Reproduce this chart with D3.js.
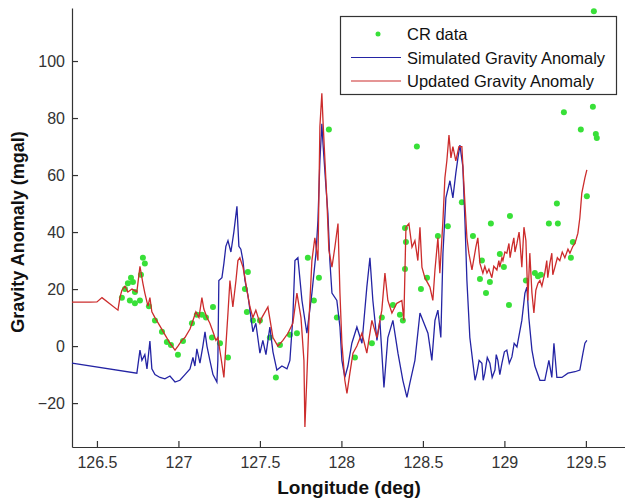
<!DOCTYPE html>
<html>
<head>
<meta charset="utf-8">
<script src="https://cdn.jsdelivr.net/npm/d3@7"></script>
<style>
  body { margin: 0; background: #fff; }
  svg { display: block; font-family: "Liberation Sans", Arial, sans-serif; }
</style>
</head>
<body>
<svg id="chart" width="625" height="501"></svg>
<script>
// simulated gravity anomaly (blue)
var simLon = [126.347,126.745,126.764,126.776,126.794,126.807,126.825,126.837,126.856,126.887,126.917,126.948,126.979,127.009,127.040,127.071,127.089,127.101,127.113,127.132,127.150,127.163,127.175,127.193,127.212,127.236,127.242,127.248,127.267,127.279,127.291,127.304,127.322,127.340,127.359,127.371,127.383,127.396,127.408,127.426,127.445,127.457,127.475,127.500,127.518,127.537,127.561,127.580,127.604,127.635,127.666,127.684,127.702,127.715,127.733,127.758,127.788,127.819,127.844,127.856,127.868,127.880,127.887,127.905,127.917,127.929,127.942,127.972,127.991,128.003,128.021,128.040,128.064,128.095,128.126,128.156,128.175,128.193,128.218,128.236,128.261,128.285,128.316,128.347,128.377,128.402,128.420,128.451,128.482,128.500,128.531,128.555,128.574,128.592,128.610,128.623,128.641,128.666,128.684,128.702,128.715,128.727,128.745,128.758,128.770,128.788,128.807,128.820,128.831,128.845,128.862,128.870,128.880,128.895,128.911,128.925,128.942,128.950,128.960,128.972,128.985,129.000,129.015,129.030,129.046,129.060,129.077,129.107,129.126,129.138,129.150,129.169,129.187,129.218,129.248,129.273,129.291,129.304,129.322,129.353,129.390,129.433,129.463,129.482,129.494,129.506];
var simVal = [-6,-9.5,-1.4,-5,-3,-8,1.8,-8,-10,-11,-11.5,-10.5,-12.6,-12,-10,-8,-4,-7,-1,-6,0,5,0,-5,-10,-12.6,-5,23,24,29,35,37,33,40,49,35,34,30,23,18,10,5,8,-2.5,2,-3,6.7,-2,-8.4,-7,-8,-5,10,30,31,16,4.5,18.6,32.6,44,65,78,71,56,46.6,30,18.6,16,6.7,-5,-11,-7,1,6.7,1,20.7,31,16,2,9,-14.5,3,9,-2.5,-12,-18,-13,-5,11.6,9,4.5,-5,9,12.6,3,32.6,52,58,52,60.7,66,70.5,63,44,23,3,-6,-12,-9.5,-5,-6,-12,-9.5,-4,-6,-11,-8.4,-3,-5,-10,-6,-2,-1.4,-6,-3.8,1,-0.3,9,18.6,20.7,10,-1.4,-7,-12,-12,-5,-11,1,-11,-11,-9.5,-9,-8.4,-2.5,1,2];

// updated gravity anomaly (red)
var updLon = [126.347,126.457,126.500,126.531,126.629,126.641,126.653,126.672,126.690,126.715,126.745,126.764,126.782,126.794,126.813,126.825,126.837,126.856,126.887,126.917,126.948,126.979,126.997,127.021,127.040,127.071,127.089,127.107,127.126,127.144,127.156,127.175,127.193,127.212,127.230,127.242,127.261,127.279,127.291,127.304,127.316,127.334,127.353,127.365,127.377,127.396,127.408,127.420,127.439,127.457,127.475,127.500,127.512,127.549,127.580,127.610,127.641,127.672,127.702,127.727,127.752,127.770,127.776,127.788,127.801,127.819,127.837,127.856,127.868,127.880,127.887,127.899,127.911,127.923,127.942,127.960,127.979,127.991,128.003,128.021,128.034,128.052,128.071,128.095,128.126,128.156,128.187,128.218,128.248,128.267,128.285,128.310,128.340,128.371,128.383,128.396,128.414,128.433,128.451,128.469,128.482,128.494,128.512,128.543,128.561,128.574,128.592,128.604,128.623,128.635,128.647,128.660,128.672,128.684,128.702,128.721,128.739,128.758,128.770,128.782,128.801,128.825,128.837,128.850,128.868,128.880,128.893,128.905,128.923,128.935,128.954,128.966,128.972,128.985,128.991,129.003,129.015,129.028,129.035,129.046,129.058,129.065,129.077,129.090,129.095,129.107,129.120,129.132,129.144,129.156,129.169,129.181,129.193,129.206,129.218,129.230,129.248,129.260,129.266,129.279,129.291,129.297,129.310,129.325,129.340,129.355,129.371,129.390,129.402,129.420,129.433,129.451,129.463,129.475,129.494,129.506];
var updVal = [15.4,15.4,15.5,17,12.6,17,19.6,21,19,20,19,28,22,18.6,14,17,12,10,7,4,1,-1.4,0,2,3,6,9,12,10,17,13,10,8,5,2,3,-4,-11,0,11.6,23,13.7,23,30,31,27.7,24,19.6,13.7,10,12.6,8,10,13.7,3,0,2,4.5,8,18.6,10,-5,-28.4,-11,9,30,38,30,77,88.7,79,65,51,33.7,27.7,34.7,43,18.6,1,-12,-16.6,-9.5,-2.5,0,4.5,-2.5,9,3,12.6,25.6,16,11.6,15,16,9,41.7,43,34.7,37,30,41.7,27.7,24,20.7,16,26.7,38,25.6,44,59,65,74,66,70,65,70,70,50,38,32.6,26.7,34.7,38,29,25.6,28,25.6,27,24,28,26.7,30,27.7,31,30,33,32.6,36,31,34.7,38,33,36,40,37,27.7,41.7,37,16,32.6,18.6,11.6,19.6,22,23,21,25.6,30,24,29,32.6,25,27.7,31,30,33,31,34,32.6,35,36,39.6,45,53.7,59,61.8];

// CR data (green)
var crLon = [126.653,126.672,126.690,126.709,126.721,126.733,126.702,126.733,126.764,126.770,126.782,126.794,126.819,126.856,126.899,126.929,126.954,126.997,127.028,127.083,127.113,127.144,127.169,127.212,127.206,127.255,127.304,127.408,127.420,127.426,127.457,127.500,127.561,127.598,127.623,127.684,127.727,127.794,127.831,127.862,127.923,127.972,128.083,128.187,128.248,128.316,128.359,128.377,128.390,128.396,128.390,128.463,128.488,128.525,128.592,128.653,128.739,128.807,128.862,128.850,128.887,128.911,128.917,128.972,128.997,129.028,129.034,129.132,129.187,129.206,129.224,129.273,129.322,129.328,129.408,129.420,129.506,129.365,129.469,129.543,129.561,129.567,129.549];
var crVal = [17,20,22,24,22.5,19,16,15,16,25,31,29,14,9,5,1.4,0.4,-3,1.8,8,11,11,10,13.7,3,1,-4,20,12,26,9,9,3,-11,0.4,4,4.5,31,16,24,76,10,-4,1,10,14.4,11,9,41.4,36.5,27,70,20,24,38.6,42,50.5,38.6,30,23.5,18.6,22.5,43,32.3,27.7,14.4,45.6,23,25.6,24.5,25,43,50,43,31,36.5,52.6,82,76,84,74.4,73,117.5];

var xTicks = [126.5, 127, 127.5, 128, 128.5, 129, 129.5];
var yTicks = [-20, 0, 20, 40, 60, 80, 100];

var blue = "#2424a4", red = "#cc2c2c", green = "#38e038";

var svg = d3.select("#chart");

var x = d3.scaleLinear().domain([126.347, 129.74]).range([72, 625]);
var y = d3.scaleLinear().domain([-35.4, 118.6]).range([447, 8]);

// axes, MATLAB style ticks pointing in
var xAxis = svg.append("g")
  .attr("transform", "translate(0,447)")
  .call(d3.axisBottom(x).tickValues(xTicks).tickFormat(function(d){ return String(d); })
    .tickSizeInner(-6).tickSizeOuter(0).tickPadding(10));
var yAxis = svg.append("g")
  .attr("transform", "translate(72,0)")
  .call(d3.axisLeft(y).tickValues(yTicks).tickSizeInner(-6).tickSizeOuter(0).tickPadding(7));

[xAxis, yAxis].forEach(function(g){
  g.selectAll("path, line").attr("stroke", "#333").attr("stroke-width", 1.2);
  g.selectAll("text").attr("fill", "#333").style("font-size", "16px")
    .style("font-family", '"Liberation Sans", Arial, sans-serif');
});

svg.append("text")
  .attr("x", 349).attr("y", 494)
  .attr("text-anchor", "middle")
  .style("font-size", "19px").style("font-weight", "bold").attr("fill", "#111")
  .text("Longitude (deg)");

svg.append("text")
  .attr("transform", "translate(24,232) rotate(-90)")
  .attr("text-anchor", "middle")
  .style("font-size", "18px").style("font-weight", "bold").attr("fill", "#111")
  .text("Gravity Anomaly (mgal)");

// CR data first, then the two curves over it
svg.append("g").selectAll("circle")
  .data(d3.range(crLon.length))
  .enter().append("circle")
    .attr("cx", function(i){ return x(crLon[i]); })
    .attr("cy", function(i){ return y(crVal[i]); })
    .attr("r", 3)
    .attr("fill", green);

var line = d3.line()
  .x(function(d){ return x(d[0]); })
  .y(function(d){ return y(d[1]); });

svg.append("path")
  .datum(d3.zip(simLon, simVal))
  .attr("fill", "none").attr("stroke", blue).attr("stroke-width", 1.3)
  .attr("d", line);

svg.append("path")
  .datum(d3.zip(updLon, updVal))
  .attr("fill", "none").attr("stroke", red).attr("stroke-width", 1.3)
  .attr("d", line);

// legend
var lg = svg.append("g");
lg.append("rect")
  .attr("x", 340.5).attr("y", 16.5).attr("width", 276).attr("height", 78)
  .attr("fill", "#fff").attr("stroke", "#333").attr("stroke-width", 1.2);
var items = [
  {label: "CR data", type: "dot", color: green},
  {label: "Simulated Gravity Anomaly", type: "line", color: blue},
  {label: "Updated Gravity Anomaly", type: "line", color: red}
];
items.forEach(function(it, i){
  var cy = 34 + i * 23.5;
  if (it.type == "dot") {
    lg.append("circle").attr("cx", 378).attr("cy", cy).attr("r", 2.5).attr("fill", it.color);
  } else {
    lg.append("line").attr("x1", 351).attr("x2", 401).attr("y1", cy).attr("y2", cy)
      .attr("stroke", it.color).attr("stroke-width", 1.2);
  }
  lg.append("text").attr("x", 407).attr("y", cy + 6)
    .style("font-size", "16.5px").attr("fill", "#111")
    .text(it.label);
});
</script>
</body>
</html>
